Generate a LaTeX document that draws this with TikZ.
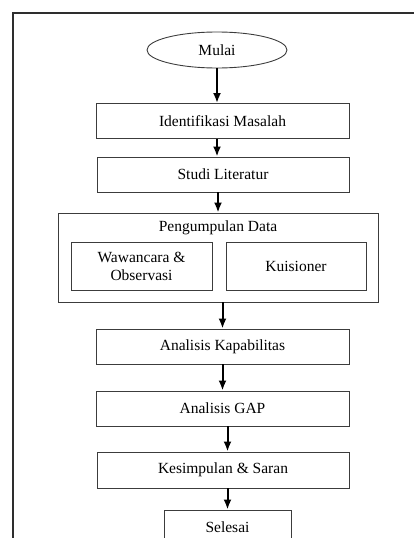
\documentclass[tikz,border=0pt]{standalone}
\usepackage{fontspec}
\setmainfont{Liberation Serif}
\usetikzlibrary{shapes.geometric,arrows.meta}
\definecolor{boxline}{HTML}{3C3C3C}
\definecolor{framec}{HTML}{2E2E2E}
\definecolor{inkc}{HTML}{000000}
\tikzset{
  procbox/.style={draw=boxline, line width=0.9pt, minimum height=35pt, inner sep=2pt,
    font=\fontsize{15.5}{18}\selectfont, text=inkc},
  flowarrow/.style={draw=inkc, line width=2pt, -{Latex[length=10pt,width=8pt]}},
}

\begin{document}
\begin{tikzpicture}[x=1pt, y=-1pt]
  \useasboundingbox (0,0) rectangle (414,538);
  \clip (0,0) rectangle (414,538);
  % page frame
  \draw[framec, line width=1.4pt] (13,538) -- (13,13) -- (414,13);
  % start
  \node[ellipse, procbox, minimum width=140pt, minimum height=36pt] (mulai) at (217,50) {Mulai};
  \node[procbox, minimum width=253pt] (ident) at (222.5,121) {Identifikasi Masalah};
  \node[procbox, minimum width=252pt] (studi) at (223,174.5) {Studi Literatur};
  % data collection group
  \node[procbox, minimum width=320pt, minimum height=89pt] (kumpul) at (218,257.5) {};
  \node[font=\fontsize{15.5}{18}\selectfont, inner sep=1pt] (kumpultitle) at (218,228) {Pengumpulan Data};
  \node[procbox, minimum width=141pt, minimum height=48pt, align=center] (wawan) at (141.5,266)
    {Wawancara \&\\Observasi};
  \node[procbox, minimum width=140pt, minimum height=48pt] (kuis) at (296,266) {Kuisioner};
  \node[procbox, minimum width=253pt] (kapab) at (222.5,346.5) {Analisis Kapabilitas};
  \node[procbox, minimum width=253pt] (gap) at (222.5,408.5) {Analisis GAP};
  \node[procbox, minimum width=252pt, minimum height=36pt] (simpul) at (223,470) {Kesimpulan \& Saran};
  \node[procbox, minimum width=127pt, minimum height=34pt] (selesai) at (227.5,527) {Selesai};
  % arrows
  \draw[flowarrow] (mulai.south) -- (mulai.south |- ident.north);
  \draw[flowarrow] (ident.south -| mulai) -- (studi.north -| mulai);
  \draw[flowarrow] (studi.south -| kumpul) -- (kumpul.north);
  \draw[flowarrow] (kumpul.south -| kapab) -- (kapab.north);
  \draw[flowarrow] (kapab.south) -- (gap.north);
  \draw[flowarrow] (gap.south -| selesai) -- (simpul.north -| selesai);
  \draw[flowarrow] (simpul.south -| selesai) -- (selesai.north);
\end{tikzpicture}
\end{document}
